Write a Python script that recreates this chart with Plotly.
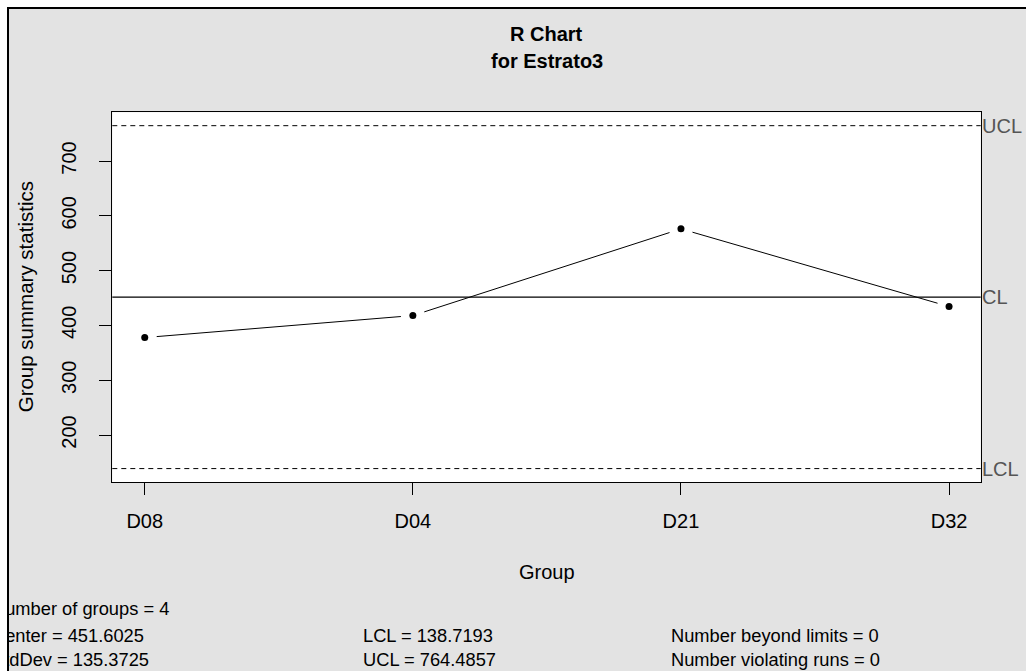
import math
import plotly.graph_objects as go

# ---------------- data ----------------
groups = ["D08", "D04", "D21", "D32"]
group_ranges = [377.8, 418.0, 576.2, 434.4]
center_line = 451.6025
lcl_value = 138.7193
ucl_value = 764.4857
std_dev = 135.3725
n_groups = 4
n_beyond = 0
n_violating = 0
y_tick_values = [200, 300, 400, 500, 600, 700]
limit_labels = ["UCL", "CL", "LCL"]

# ---------------- layout geometry (pixels) ----------------
W, H = 1026, 671
PX_L, PX_R, PX_T, PX_B = 112.3, 980.7, 112.3, 482.3
X_RANGE = [-0.121, 3.118]
Y_RANGE = [113.7, 788.9]
FONT = "Liberation Sans, Arial, sans-serif"
FS = 20


def fx(px):
    return px / W


def fy(py):
    return 1 - py / H


def to_px(x, y):
    px = PX_L + (x - X_RANGE[0]) / (X_RANGE[1] - X_RANGE[0]) * (PX_R - PX_L)
    py = PX_B - (y - Y_RANGE[0]) / (Y_RANGE[1] - Y_RANGE[0]) * (PX_B - PX_T)
    return px, py


def from_px(px, py):
    x = X_RANGE[0] + (px - PX_L) / (PX_R - PX_L) * (X_RANGE[1] - X_RANGE[0])
    y = Y_RANGE[0] + (PX_B - py) / (PX_B - PX_T) * (Y_RANGE[1] - Y_RANGE[0])
    return x, y


# R type="b": line segments with a gap around each point
xs = list(range(len(groups)))
GAP = 12
seg_x, seg_y = [], []
for i in range(len(xs) - 1):
    p0 = to_px(xs[i], group_ranges[i])
    p1 = to_px(xs[i + 1], group_ranges[i + 1])
    dx, dy = p1[0] - p0[0], p1[1] - p0[1]
    d = math.hypot(dx, dy)
    if d > 2 * GAP:
        a = from_px(p0[0] + dx * GAP / d, p0[1] + dy * GAP / d)
        b = from_px(p1[0] - dx * GAP / d, p1[1] - dy * GAP / d)
        seg_x += [a[0], b[0], None]
        seg_y += [a[1], b[1], None]

fig = go.Figure()

fig.add_trace(go.Scatter(
    x=seg_x, y=seg_y, mode="lines",
    line=dict(color="black", width=1), hoverinfo="skip", showlegend=False,
    xaxis="x", yaxis="y",
))
fig.add_trace(go.Scatter(
    x=xs, y=group_ranges, mode="markers",
    marker=dict(color="black", size=7), showlegend=False,
    xaxis="x", yaxis="y",
))

# bottom statistics text (clipped at the left frame like the original)
stats_rows = [
    (f"Number of groups = {n_groups}", -8, 610),
    (f"Center = {center_line}", -8, 637),
    (f"StdDev = {std_dev}", -8, 661),
    (f"LCL = {lcl_value}", 363, 637),
    (f"UCL = {ucl_value}", 363, 661),
    (f"Number beyond limits = {n_beyond}", 671, 637),
    (f"Number violating runs = {n_violating}", 671, 661),
]
fig.add_trace(go.Scatter(
    x=[r[1] for r in stats_rows], y=[r[2] for r in stats_rows],
    text=[r[0] for r in stats_rows], mode="text", textposition="middle right",
    textfont=dict(family=FONT, size=18.3, color="black"),
    cliponaxis=True, showlegend=False, hoverinfo="skip",
    xaxis="x2", yaxis="y2",
))

shapes = [
    # grey device region with black frame
    dict(type="rect", xref="paper", yref="paper", x0=fx(8), x1=1.02, y0=-0.02, y1=fy(8),
         fillcolor="#e3e3e3", line=dict(color="black", width=2), layer="below"),
    # white plotting region
    dict(type="rect", xref="x domain", yref="y domain", x0=0, x1=1, y0=0, y1=1,
         fillcolor="white", line=dict(width=0), layer="below"),
    # control lines
    dict(type="line", xref="x domain", yref="y", x0=0, x1=1, y0=ucl_value, y1=ucl_value,
         line=dict(color="black", width=1, dash="5px,4px")),
    dict(type="line", xref="x domain", yref="y", x0=0, x1=1, y0=center_line, y1=center_line,
         line=dict(color="black", width=1.3)),
    dict(type="line", xref="x domain", yref="y", x0=0, x1=1, y0=lcl_value, y1=lcl_value,
         line=dict(color="black", width=1, dash="5px,4px")),
]

annotations = [
    dict(text="<b>R Chart</b>", x=fx((PX_L + PX_R) / 2), y=fy(34), xref="paper", yref="paper",
         showarrow=False, xanchor="center", yanchor="middle",
         font=dict(family=FONT, size=FS, color="black")),
    dict(text="<b>for Estrato3</b>", x=fx((PX_L + PX_R) / 2), y=fy(61), xref="paper", yref="paper",
         showarrow=False, xanchor="center", yanchor="middle",
         font=dict(family=FONT, size=FS, color="black")),
    dict(text="Group", x=fx((PX_L + PX_R) / 2), y=fy(572), xref="paper", yref="paper",
         showarrow=False, xanchor="center", yanchor="middle",
         font=dict(family=FONT, size=FS, color="black")),
    dict(text="Group summary statistics", x=fx(25), y=fy((PX_T + PX_B) / 2), xref="paper", yref="paper",
         showarrow=False, xanchor="center", yanchor="middle", textangle=-90,
         font=dict(family=FONT, size=20.5, color="black")),
]
for lab, val in zip(limit_labels, [ucl_value, center_line, lcl_value]):
    annotations.append(dict(
        text=lab, x=1, y=val, xref="x domain", yref="y", showarrow=False,
        xanchor="left", yanchor="middle", xshift=-1,
        font=dict(family=FONT, size=FS, color="#555555"),
    ))

fig.update_layout(
    width=W, height=H,
    margin=dict(l=0, r=0, t=0, b=0),
    paper_bgcolor="white",
    plot_bgcolor="rgba(0,0,0,0)",
    font=dict(family=FONT, size=FS, color="black"),
    showlegend=False,
    shapes=shapes,
    annotations=annotations,
    xaxis=dict(
        domain=[fx(PX_L), fx(PX_R)], range=X_RANGE,
        tickvals=xs, ticktext=groups, ticks="outside", ticklen=12,
        tickcolor="black", tickwidth=1, showline=True, mirror=True,
        linecolor="black", linewidth=1, showgrid=False, zeroline=False,
        tickfont=dict(family=FONT, size=FS, color="black"),
        ticklabelstandoff=9, anchor="y",
    ),
    yaxis=dict(
        domain=[fy(PX_B), fy(PX_T)], range=Y_RANGE,
        tickvals=y_tick_values, ticks="outside", ticklen=12,
        tickcolor="black", tickwidth=1, showline=True, mirror=True,
        linecolor="black", linewidth=1, showgrid=False, zeroline=False,
        tickangle=-90, tickfont=dict(family=FONT, size=FS, color="black"),
        ticklabelstandoff=15, anchor="x",
    ),
    xaxis2=dict(domain=[fx(9), 1], range=[9, W], visible=False, anchor="y2"),
    yaxis2=dict(domain=[0, fy(590)], range=[H, 590], visible=False, anchor="x2"),
)

fig.write_html("out.html")
